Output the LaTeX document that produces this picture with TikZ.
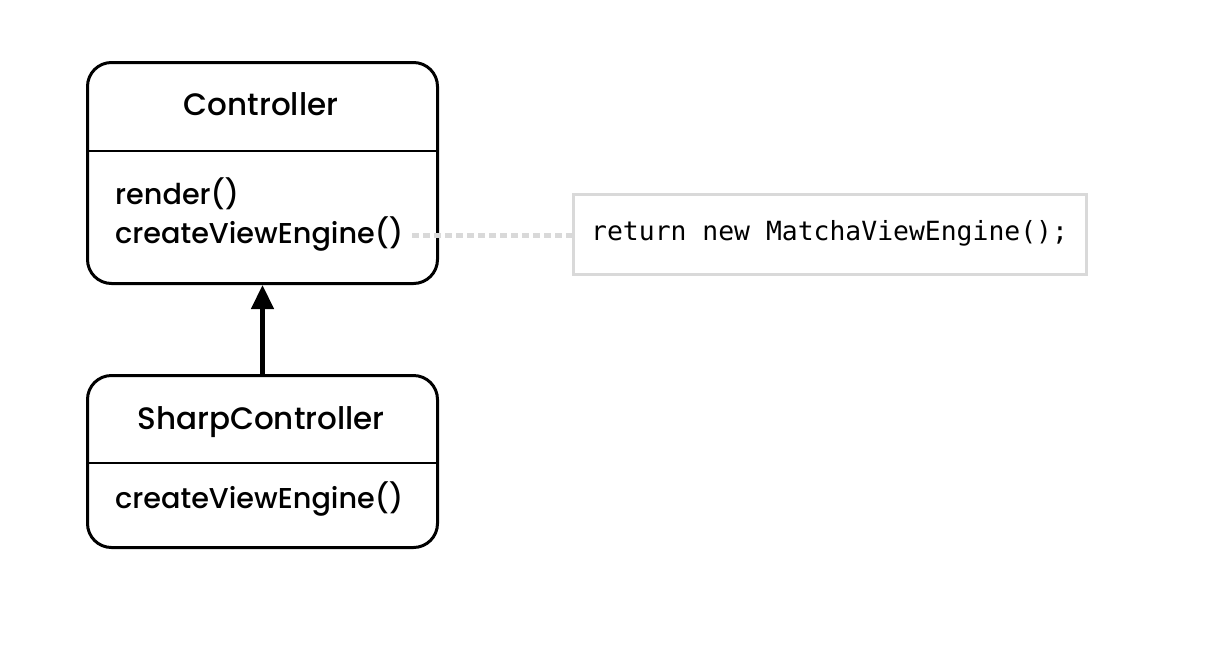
\documentclass[tikz,border=0pt]{standalone}
\usepackage{fontspec}
\setmainfont{Poppins Medium}
\setmonofont{DejaVu Sans Mono}
\usetikzlibrary{arrows.meta}
\begin{document}
\begin{tikzpicture}[x=1pt,y=-1pt,
  classbox/.style={draw=black,line width=3pt,rounded corners=24pt},
  divider/.style={draw=black,line width=2.2pt},
  title/.style={font=\fontsize{31}{36}\selectfont,anchor=base,inner sep=0pt},
  member/.style={font=\fontsize{28.7}{33}\selectfont,anchor=base west,inner sep=0pt},
  codebox/.style={draw=black!15,line width=2.5pt,minimum width=513pt,minimum height=80pt,anchor=north west,inner sep=0pt},
  codetext/.style={font=\ttfamily\fontsize{26.4}{30}\selectfont,anchor=west,inner sep=0pt},
  inherit/.style={line width=4.5pt,-{Triangle[width=22pt,length=24pt]}},
  note/.style={draw=black!15,line width=5pt,dash pattern=on 7pt off 4pt}
]
\useasboundingbox (0,0) rectangle (1221,665);
% Controller
\node[classbox,minimum width=350pt,minimum height=221pt,anchor=north west,inner sep=0pt] (ctrl) at (86,61) {};
\draw[divider] (86,151) -- (436,151);
\node[title] (ctrlT) at (261,115) {Controller};
\node[member] (render) at (115,204) {render()};
\node[member] (cve) at (115,243) {createViewEngine()};
% SharpController
\node[classbox,minimum width=350pt,minimum height=172pt,anchor=north west,inner sep=0pt] (sharp) at (86,374) {};
\draw[divider] (86,463) -- (436,463);
\node[title] (sharpT) at (261,429) {SharpController};
\node[member] (cve2) at (115,508) {createViewEngine()};
% inheritance
\draw[inherit] (sharp.north) -- (ctrl.south);
% code note
\node[codebox] (code) at (572,193) {};
\node[codetext] (codeT) at (591,233) {return new MatchaViewEngine();};
\coordinate (dotA) at (412,235);
\draw[note] (dotA) -- (code.west |- dotA);
\end{tikzpicture}
\end{document}
